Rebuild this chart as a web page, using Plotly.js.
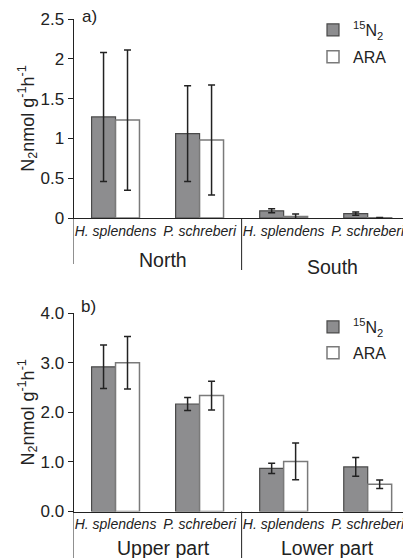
<!DOCTYPE html>
<html>
<head>
<meta charset="utf-8">
<script src="https://cdn.plot.ly/plotly-3.0.1.min.js"></script>
<style>
  html, body { margin: 0; padding: 0; background: #fff; }
  #chart { width: 403px; height: 558px; }
</style>
</head>
<body>
<div id="chart"></div>
<script>
// ---------- data ----------
const species = ['H. splendens', 'P. schreberi', 'H. splendens', 'P. schreberi'];
const groupsA = ['North', 'South'];
const groupsB = ['Upper part', 'Lower part'];
const seriesNames = ['<sup>15</sup>N<sub>2</sub>', 'ARA'];

// panel a
const n15A    = [1.27, 1.06, 0.09, 0.055];
const n15AErr = [0.81, 0.60, 0.025, 0.02];
const araA    = [1.23, 0.98, 0.02, 0.003];
const araAErr = [0.88, 0.69, 0.03, 0.003];

// panel b
const n15B    = [2.92, 2.17, 0.87, 0.90];
const n15BErr = [0.44, 0.13, 0.105, 0.19];
const araB    = [3.00, 2.34, 1.01, 0.55];
const araBErr = [0.53, 0.29, 0.37, 0.085];

const yTicksA = [0, 0.5, 1, 1.5, 2, 2.5];
const yTicksB = [0, 1, 2, 3, 4];

// ---------- layout helpers ----------
const W = 403, H = 558;
const py = p => 1 - p / H;      // pixel row -> paper fraction
const pxf = p => p / W;         // pixel col -> paper fraction
const idx = species.map((_, i) => i);

const FONT = 'Liberation Sans, Arial, Helvetica, sans-serif';
const gray = '#8d8d8f';
const errStyle = (arr) => ({ type: 'data', array: arr, visible: true, color: '#222', thickness: 1.5, width: 3.5 });

const traces = [
  { type: 'bar', x: idx, y: n15A, name: seriesNames[0], xaxis: 'x', yaxis: 'y', legend: 'legend', legendgroup: 'a1',
    marker: { color: gray, line: { color: '#4a4a4a', width: 1.2 } }, error_y: errStyle(n15AErr) },
  { type: 'bar', x: idx, y: araA, name: seriesNames[1], xaxis: 'x', yaxis: 'y', legend: 'legend', legendgroup: 'a2',
    marker: { color: '#ffffff', line: { color: '#7a7a7a', width: 1.5 } }, error_y: errStyle(araAErr) },
  { type: 'bar', x: idx, y: n15B, name: seriesNames[0], xaxis: 'x2', yaxis: 'y2', legend: 'legend2', legendgroup: 'b1',
    marker: { color: gray, line: { color: '#4a4a4a', width: 1.2 } }, error_y: errStyle(n15BErr) },
  { type: 'bar', x: idx, y: araB, name: seriesNames[1], xaxis: 'x2', yaxis: 'y2', legend: 'legend2', legendgroup: 'b2',
    marker: { color: '#ffffff', line: { color: '#7a7a7a', width: 1.5 } }, error_y: errStyle(araBErr) }
];

const xCommon = {
  range: [-0.5, 3.42], tickvals: idx, ticktext: species,
  tickfont: { family: FONT, size: 14, style: 'italic', color: '#222' },
  showline: true, linecolor: '#222', linewidth: 1, ticks: '', showgrid: false, zeroline: false,
  ticklabelstandoff: 0, ticklabeloverflow: 'allow', fixedrange: true
};
const yCommon = {
  showline: true, linecolor: '#222', linewidth: 1, ticks: 'outside', ticklen: 5, tickcolor: '#222',
  tickfont: { family: FONT, size: 17, color: '#222' }, showgrid: false, zeroline: false, fixedrange: true,
  title: { text: 'N<sub>2</sub>nmol g<sup>-1</sup>h<sup>-1</sup>', font: { family: FONT, size: 18, color: '#222' }, standoff: 0 }
};

const divider = (xv, y0p, y1p, xr) => ({ type: 'line', xref: xr, yref: 'paper', x0: xv, x1: xv,
  y0: py(y0p), y1: py(y1p), line: { color: '#222', width: 1 } });

const groupAnn = (text, xv, ypix, xr, xs) => ({ text, x: xv, y: py(ypix), xref: xr, yref: 'paper',
  showarrow: false, xanchor: 'center', yanchor: 'middle', xshift: xs,
  font: { family: FONT, size: 19.5, color: '#222' } });

const layout = {
  width: W, height: H, margin: { l: 0, r: 0, t: 0, b: 0 },
  paper_bgcolor: '#fff', plot_bgcolor: '#fff',
  barmode: 'group', bargap: 0.43, bargroupgap: 0,
  xaxis: Object.assign({}, xCommon, { domain: [pxf(73.5), 1], anchor: 'y' }),
  yaxis: Object.assign({}, yCommon, { domain: [py(218), py(19)], range: [0, 2.5], tickvals: yTicksA, anchor: 'x' }),
  xaxis2: Object.assign({}, xCommon, { domain: [pxf(73.5), 1], anchor: 'y2' }),
  yaxis2: Object.assign({}, yCommon, { domain: [py(511.5), py(313.3)], range: [0, 4], tickvals: yTicksB,
    tickformat: '.1f', anchor: 'x2' }),
  legend: { x: pxf(313), y: py(13), xanchor: 'left', yanchor: 'top', bgcolor: 'rgba(0,0,0,0)',
    font: { family: FONT, size: 16, color: '#222' }, tracegroupgap: 3, traceorder: 'grouped' },
  legend2: { x: pxf(313), y: py(310), xanchor: 'left', yanchor: 'top', bgcolor: 'rgba(0,0,0,0)',
    font: { family: FONT, size: 16, color: '#222' }, tracegroupgap: 2, traceorder: 'grouped' },
  shapes: [
    divider(-0.5, 218, 264, 'x'), divider(1.5, 218, 270, 'x'),
    divider(-0.5, 511.5, 558, 'x2'), divider(1.5, 511.5, 558, 'x2')
  ],
  annotations: [
    groupAnn(groupsA[0], 0.5, 260, 'x', 5), groupAnn(groupsA[1], 2.5, 267, 'x', 7),
    groupAnn(groupsB[0], 0.5, 548, 'x2', 6), groupAnn(groupsB[1], 2.5, 548, 'x2', 2),
    { text: 'a)', x: pxf(80), y: py(16), xref: 'paper', yref: 'paper', showarrow: false, xanchor: 'left', yanchor: 'middle',
      font: { family: FONT, size: 17, color: '#222' } },
    { text: 'b)', x: pxf(79), y: py(306), xref: 'paper', yref: 'paper', showarrow: false, xanchor: 'left', yanchor: 'middle',
      font: { family: FONT, size: 17, color: '#222' } }
  ]
};

Plotly.newPlot('chart', traces, layout, { displayModeBar: false, staticPlot: true });
</script>
</body>
</html>
